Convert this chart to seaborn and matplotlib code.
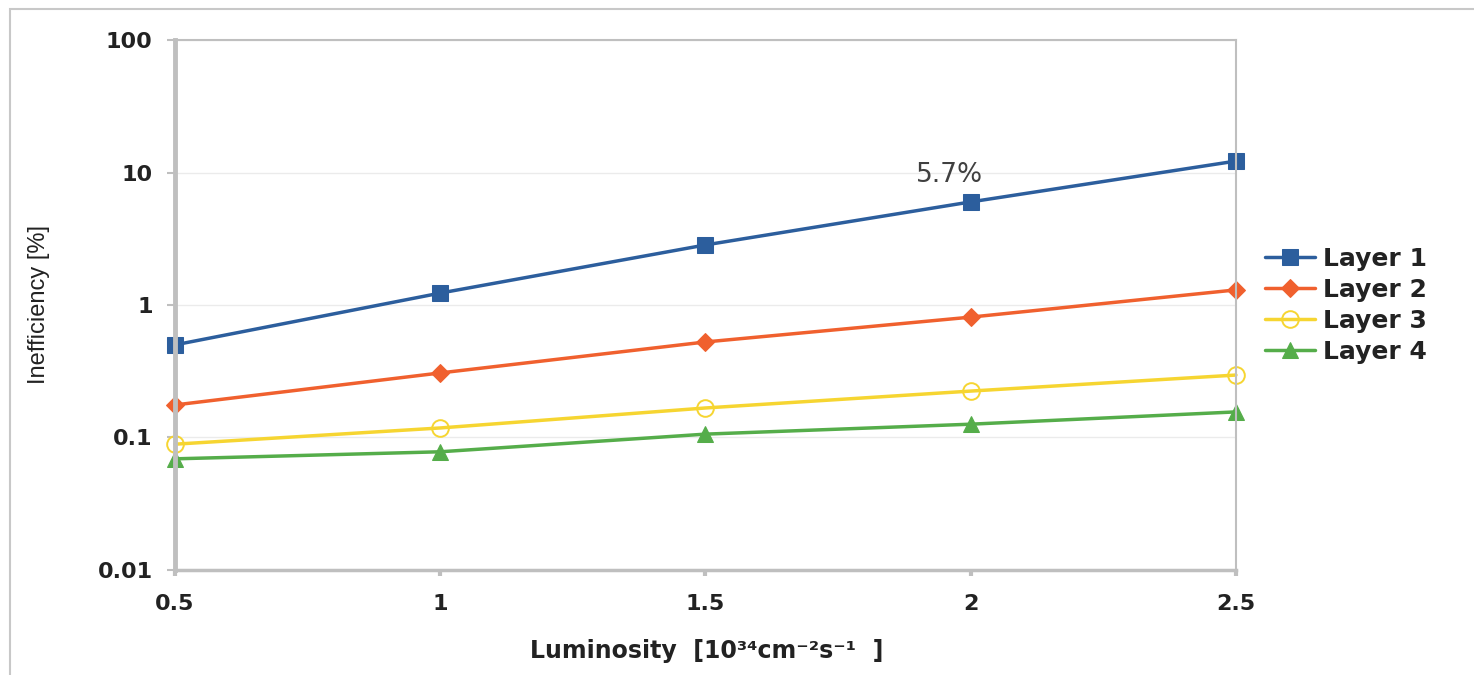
import numpy as np
import pandas as pd
import matplotlib.pyplot as plt
from matplotlib.patches import Rectangle
import seaborn as sns

# values
luminosity = [0.5, 1.0, 1.5, 2.0, 2.5]
layer1 = [0.50, 1.23, 2.84, 6.0, 12.2]
layer2 = [0.176, 0.307, 0.526, 0.81, 1.30]
layer3 = [0.089, 0.118, 0.167, 0.224, 0.296]
layer4 = [0.069, 0.078, 0.106, 0.126, 0.156]
layer_names = ["Layer 1", "Layer 2", "Layer 3", "Layer 4"]
y_ticks = [0.01, 0.1, 1, 10, 100]
y_labels = ["0.01", "0.1", "1", "10", "100"]
x_labels = ["0.5", "1", "1.5", "2", "2.5"]

df = pd.DataFrame({
    "lum": luminosity * 4,
    "ineff": layer1 + layer2 + layer3 + layer4,
    "layer": np.repeat(layer_names, len(luminosity)),
})

sns.set_style("white")
plt.rcParams["font.family"] = ["DejaVu Sans"]

colors = ["#2C5E9D", "#F0602E", "#F6D531", "#55AD4A"]
styles = [
    dict(marker="s", markersize=11),
    dict(marker="D", markersize=9),
    dict(marker="o", markersize=12, markerfacecolor="none", markeredgewidth=1.4),
    dict(marker="^", markersize=12),
]

fig = plt.figure(figsize=(14.74, 6.75), dpi=100)
ax = fig.add_axes([0.1187, 0.1556, 0.7198, 0.7851])

for name, col, st in zip(layer_names, colors, styles):
    sns.lineplot(data=df[df["layer"] == name], x="lum", y="ineff", color=col,
                 linewidth=2.5, label=name, clip_on=False, markeredgecolor=col,
                 ax=ax, **st)

ax.set_yscale("log")
ax.set_xlim(0.5, 2.5)
ax.set_ylim(0.01, 100)
ax.set_yticks(y_ticks)
ax.set_yticklabels(y_labels)
ax.yaxis.set_minor_locator(plt.NullLocator())
ax.set_xticks(luminosity)
ax.set_xticklabels(x_labels)

ax.grid(axis="y", color="#EBEBEB", linewidth=1)
ax.set_axisbelow(True)
for side, sp in ax.spines.items():
    sp.set_color("#BFBFBF")
    sp.set_linewidth(1.5)
ax.spines["left"].set_linewidth(3.5)
ax.spines["bottom"].set_linewidth(2.5)

ax.tick_params(axis="y", which="major", length=6, width=1.5, color="#BFBFBF",
               pad=10, labelsize=16, labelcolor="#222222", left=True)
ax.tick_params(axis="x", which="major", length=4, width=3, color="#BFBFBF",
               pad=13, labelsize=16, labelcolor="#222222", bottom=True)
for lab in ax.get_xticklabels() + ax.get_yticklabels():
    lab.set_fontweight("bold")

ax.set_ylabel("Inefficiency [%]", fontsize=17, color="#222222",
              family=["Liberation Sans", "DejaVu Sans"])
ax.yaxis.set_label_coords(-0.118, 0.5)
ax.set_xlabel("Luminosity  [10³⁴cm⁻²s⁻¹  ]", fontsize=17,
              fontweight="bold", color="#222222")
ax.xaxis.set_label_coords(0.501, -0.13)

ax.text(1.96, 9.5, "5.7%", fontsize=19, color="#404040",
        ha="center", va="center")

leg = ax.legend(loc="center left", bbox_to_anchor=(0.843, 0.548),
                bbox_transform=fig.transFigure, frameon=False,
                prop=dict(size=18, weight="bold"), handlelength=2.0,
                handletextpad=0.3, labelspacing=0.28)
for t in leg.get_texts():
    t.set_color("#222222")

# outer frame of the original slide
fig.patches.append(Rectangle((10 / 1474, -0.1), 1.2, 1 - 9 / 675 + 0.1,
                             transform=fig.transFigure, fill=False,
                             edgecolor="#C8C8C8", linewidth=1.5))

fig.savefig("out.png", dpi=100)
